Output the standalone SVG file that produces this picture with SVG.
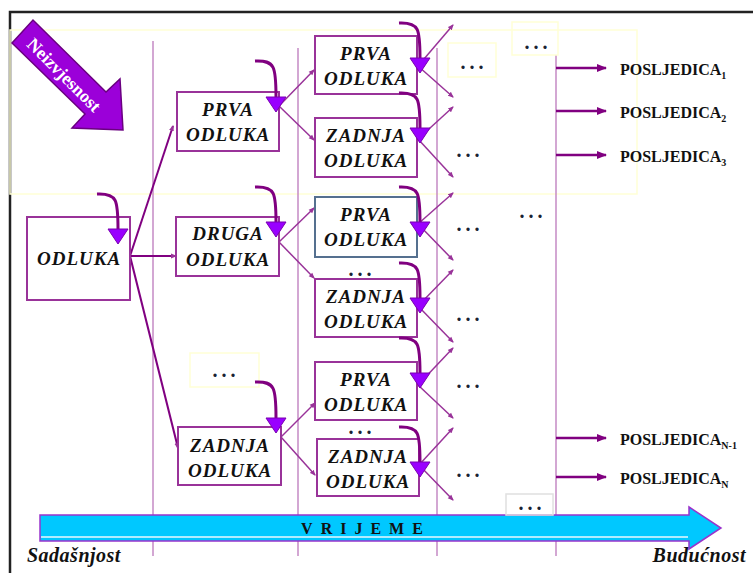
<svg xmlns="http://www.w3.org/2000/svg" width="753" height="573" viewBox="0 0 753 573">
<defs>
<marker id="sm" markerWidth="6" markerHeight="6" refX="5" refY="3" orient="auto" markerUnits="userSpaceOnUse"><path d="M0,0.5 L6,3 L0,5.5 Z" fill="#993399"/></marker>
<marker id="am" markerWidth="10" markerHeight="10" refX="9" refY="5" orient="auto" markerUnits="userSpaceOnUse"><path d="M0,1 L10,5 L0,9 Z" fill="#800080"/></marker>
<style>
.box{fill:#fff;stroke:#993399;stroke-width:2}
.bx2{fill:#fff;stroke:#55708f;stroke-width:2}
.t{font-family:"Liberation Serif",serif;font-weight:bold;font-style:italic;font-size:19px;letter-spacing:1px;fill:#111;text-anchor:middle}
.d{font-family:"Liberation Serif",serif;font-weight:bold;font-size:20px;letter-spacing:4px;fill:#1a2233;text-anchor:middle}
.vl{stroke:#c58ac5;stroke-width:1.5;fill:none}
.yl{fill:none;stroke:#ffffd6;stroke-width:1.5}
.cv{fill:none;stroke:#800080;stroke-width:3}
.tri{fill:#9900ff;stroke:#7a00b0;stroke-width:1}
.ln{stroke:#993399;stroke-width:1.5;fill:none;marker-end:url(#sm)}
.ln2{stroke:#800080;stroke-width:2;fill:none;marker-end:url(#sm)}
.ha{stroke:#800080;stroke-width:2.5;fill:none;marker-end:url(#am)}
.p{font-family:"Liberation Serif",serif;font-weight:bold;font-size:16px;fill:#111}
.s{font-size:10px}
.tm{font-family:"Liberation Serif",serif;font-weight:bold;font-style:italic;font-size:20px;fill:#111}
</style>
</defs>
<rect width="753" height="573" fill="#fff"/>
<!-- frame -->
<path d="M10,573 L10,12 L753,12" fill="none" stroke="#222" stroke-width="2.5"/>
<!-- yellow faint regions -->
<rect class="yl" x="10" y="30" width="627" height="164"/>
<!-- vertical time lines -->
<g id="timelines">
<line class="vl" x1="153" y1="41" x2="153" y2="556"/>
<line class="vl" x1="298" y1="48" x2="298" y2="556"/>
<line class="vl" x1="437" y1="48" x2="437" y2="556"/>
<line class="vl" x1="556" y1="55" x2="556" y2="556"/>
</g>
<!-- uncertainty arrow -->
<g id="neizvjesnost">
<polygon points="12,43 33,20 106,92 120,79 123,130 72,128 85,114" fill="#9b00d9" stroke="#6a0080" stroke-width="1.5"/>
<text x="64" y="81" transform="rotate(45 64 75)" font-family="Liberation Serif,serif" font-weight="bold" font-size="18" fill="#fff" text-anchor="middle">Neizvjesnost</text>
</g>
<!-- time arrow -->
<g id="vrijeme">
<polygon points="40,515 689,515 689,507 721,528 689,549 689,541 40,541" fill="#00c8ff" stroke="#9933cc" stroke-width="1.5"/>
<line x1="41" y1="537" x2="688" y2="537" stroke="#e8f8ff" stroke-width="1.5"/>
<text x="366" y="534" font-family="Liberation Serif,serif" font-weight="bold" font-size="16" letter-spacing="8" fill="#111" text-anchor="middle">VRIJEME</text>
<text class="tm" x="27" y="562" letter-spacing="0.5">Sadašnjost</text>
<text class="tm" x="746" y="562" text-anchor="end" letter-spacing="0.5">Budućnost</text>
</g>
<!-- connectors -->
<g id="connectors">
<line class="ln2" x1="130" y1="256" x2="173" y2="126"/>
<line class="ln2" x1="130" y1="256" x2="176" y2="256"/>
<line class="ln2" x1="130" y1="256" x2="178" y2="448"/>
<line class="ln" x1="279" y1="106" x2="314" y2="70"/>
<line class="ln" x1="279" y1="106" x2="314" y2="140"/>
<line class="ln" x1="279" y1="242" x2="314" y2="208"/>
<line class="ln" x1="279" y1="242" x2="314" y2="278"/>
<line class="ln" x1="281" y1="437" x2="315" y2="403"/>
<line class="ln" x1="281" y1="437" x2="315" y2="475"/>
<line class="ln" x1="418" y1="66" x2="453" y2="25"/>
<line class="ln" x1="418" y1="66" x2="453" y2="97"/>
<line class="ln" x1="418" y1="139" x2="453" y2="107"/>
<line class="ln" x1="418" y1="139" x2="453" y2="177"/>
<line class="ln" x1="418" y1="224" x2="453" y2="193"/>
<line class="ln" x1="418" y1="224" x2="453" y2="260"/>
<line class="ln" x1="418" y1="306" x2="453" y2="270"/>
<line class="ln" x1="418" y1="306" x2="453" y2="342"/>
<line class="ln" x1="418" y1="385" x2="453" y2="348"/>
<line class="ln" x1="418" y1="385" x2="453" y2="418"/>
<line class="ln" x1="419" y1="465" x2="453" y2="428"/>
<line class="ln" x1="419" y1="465" x2="453" y2="500"/>
<line class="ha" x1="556" y1="68" x2="606" y2="68"/>
<line class="ha" x1="556" y1="111" x2="606" y2="111"/>
<line class="ha" x1="556" y1="155" x2="606" y2="155"/>
<line class="ha" x1="556" y1="438" x2="606" y2="438"/>
<line class="ha" x1="556" y1="477" x2="606" y2="477"/>
</g>
<!-- nodes -->
<g id="n-odluka">
<rect class="box" x="27" y="217" width="103" height="83"/>
<text class="t" x="79" y="265">ODLUKA</text>
</g>
<g id="n-prva2">
<rect class="box" x="177" y="92" width="102" height="59"/>
<text class="t" x="228" y="116">PRVA</text>
<text class="t" x="228" y="141">ODLUKA</text>
</g>
<g id="n-druga2">
<rect class="box" x="176" y="217" width="103" height="59"/>
<text class="t" x="228" y="240">DRUGA</text>
<text class="t" x="228" y="266">ODLUKA</text>
</g>
<g id="n-dots2">
<rect class="yl" x="190" y="353" width="69" height="34"/>
<text class="d" x="226" y="377">...</text>
</g>
<g id="n-zadnja2">
<rect class="box" x="178" y="427" width="103" height="58"/>
<text class="t" x="230" y="452">ZADNJA</text>
<text class="t" x="230" y="477">ODLUKA</text>
</g>
<g id="n-prva3a">
<rect class="box" x="315" y="36" width="102" height="58"/>
<text class="t" x="366" y="60">PRVA</text>
<text class="t" x="366" y="85">ODLUKA</text>
</g>
<g id="n-zadnja3a">
<rect class="box" x="315" y="118" width="102" height="59"/>
<text class="t" x="366" y="142">ZADNJA</text>
<text class="t" x="366" y="167">ODLUKA</text>
</g>
<g id="n-prva3b">
<rect class="bx2" x="315" y="197" width="102" height="60"/>
<text class="t" x="366" y="221">PRVA</text>
<text class="t" x="366" y="246">ODLUKA</text>
</g>
<g id="n-zadnja3b">
<text class="d" x="362" y="276">...</text>
<rect class="box" x="315" y="279" width="102" height="58"/>
<text class="t" x="366" y="303">ZADNJA</text>
<text class="t" x="366" y="328">ODLUKA</text>
</g>
<g id="n-prva3c">
<rect class="box" x="315" y="362" width="102" height="58"/>
<text class="t" x="366" y="386">PRVA</text>
<text class="t" x="366" y="411">ODLUKA</text>
</g>
<g id="n-zadnja3c">
<text class="d" x="362" y="434">...</text>
<rect class="box" x="317" y="439" width="102" height="57"/>
<text class="t" x="368" y="463">ZADNJA</text>
<text class="t" x="368" y="488">ODLUKA</text>
</g>
<!-- column 4 / 5 dots -->
<g id="n-dots4">
<rect class="yl" x="448" y="43" width="48" height="34"/>
<text class="d" x="474" y="69">...</text>
<text class="d" x="470" y="157">...</text>
<text class="d" x="470" y="231">...</text>
<text class="d" x="470" y="321">...</text>
<text class="d" x="470" y="388">...</text>
<text class="d" x="470" y="477">...</text>
</g>
<g id="n-dots5">
<rect class="yl" x="512" y="22" width="46" height="33"/>
<text class="d" x="538" y="49">...</text>
<text class="d" x="533" y="218">...</text>
<rect x="506" y="494" width="47" height="21" fill="none" stroke="#e0e0e0" stroke-width="1.5"/>
<text class="d" x="532" y="510">...</text>
</g>
<!-- outcomes -->
<g id="posljedice">
<text class="p" x="620" y="75">POSLJEDICA<tspan class="s" dy="4">1</tspan></text>
<text class="p" x="620" y="118">POSLJEDICA<tspan class="s" dy="4">2</tspan></text>
<text class="p" x="620" y="162">POSLJEDICA<tspan class="s" dy="4">3</tspan></text>
<text class="p" x="620" y="445">POSLJEDICA<tspan class="s" dy="4">N-1</tspan></text>
<text class="p" x="620" y="484">POSLJEDICA<tspan class="s" dy="4">N</tspan></text>
</g>
<!-- curved self arrows -->
<g id="curves">
<path class="cv" d="M97,194 C117,193 118,200 118,229"/><polygon class="tri" points="108,229 128,229 118,244"/>
<path class="cv" d="M255,61 C275,60 276,67 276,97"/><polygon class="tri" points="266,97 286,97 276,112"/>
<path class="cv" d="M255,187 C275,186 276,193 276,222"/><polygon class="tri" points="266,222 286,222 276,237"/>
<path class="cv" d="M255,382 C275,381 276,388 276,418"/><polygon class="tri" points="266,418 286,418 276,433"/>
<path class="cv" d="M399,23 C419,22 420,29 420,58"/><polygon class="tri" points="410,58 430,58 420,73"/>
<path class="cv" d="M399,93 C419,92 420,99 420,128"/><polygon class="tri" points="410,128 430,128 420,143"/>
<path class="cv" d="M399,187 C419,186 420,193 420,222"/><polygon class="tri" points="410,222 430,222 420,237"/>
<path class="cv" d="M399,263 C419,262 420,269 420,298"/><polygon class="tri" points="410,298 430,298 420,313"/>
<path class="cv" d="M399,338 C419,337 420,344 420,373"/><polygon class="tri" points="410,373 430,373 420,388"/>
<path class="cv" d="M399,427 C419,426 420,433 420,462"/><polygon class="tri" points="410,462 430,462 420,477"/>
</g>
</svg>
